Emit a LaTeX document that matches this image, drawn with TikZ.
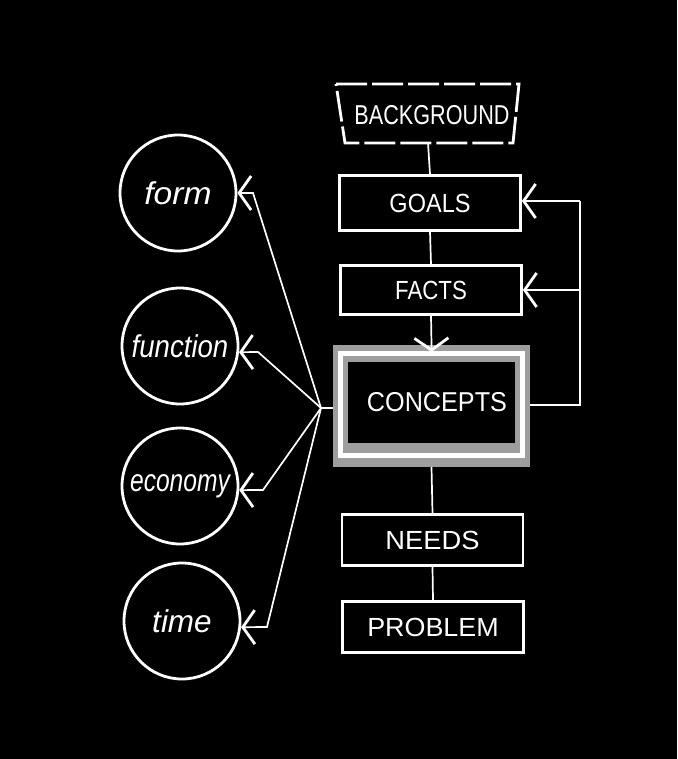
\documentclass[tikz,border=0pt]{standalone}
\usepackage{fontspec}
\usepackage{graphicx}
\setmainfont{Liberation Sans}
\usetikzlibrary{arrows.meta}
\begin{document}
\begin{tikzpicture}[x=1pt,y=-1pt,
  box/.style={draw=white, line width=2.8pt, minimum width=181pt, minimum height=52pt,
    inner sep=0pt, text=white, font=\fontsize{21}{21}\selectfont},
  ring/.style={circle, draw=white, line width=2.8pt, minimum size=116pt, inner sep=0pt,
    text=white, font=\itshape\fontsize{30}{30}\selectfont},
  link/.style={draw=white, line width=1.7pt},
  chev/.style={link, -{Straight Barb[length=12pt,width=34pt,line width=2.8pt 0 1]}},
  capsfont/.style={text=white, font=\fontsize{21}{21}\selectfont}
]
\useasboundingbox (0,0) rectangle (677,759);
\fill[black] (0,0) rectangle (677,759);

% background trapezoid (dashed)
\draw[white, line width=2.8pt, dash pattern=on 31pt off 5pt]
  (336,84) -- (519,84) -- (513,143) -- (345,143) -- cycle;
\node[capsfont] (bg) at (432,115) {\scalebox{1.03}[1.3]{BACKGROUND}};
\coordinate (bgb) at (428,143);

% boxes
\node[box, minimum height=55pt] (goals) at (430,203) {\scalebox{1.12}[1.25]{GOALS}};
\node[box, minimum height=49pt] (facts) at (431,290) {\scalebox{1.06}[1.25]{FACTS}};

% concepts frame
\node[draw=none, fill=white!62!black, minimum width=197pt, minimum height=122pt,
  inner sep=0pt] (concepts) at (431.5,406) {};
\fill[black] (348,362) rectangle (515,443);
\draw[white, line width=5pt] (340.5,353.5) rectangle (522.5,455);
\node[capsfont] (conceptstext) at (437,402) {\scalebox{1.2}[1.3]{CONCEPTS}};

\node[box, minimum height=51pt] (needs) at (432.5,540) {\scalebox{1.3}[1.25]{NEEDS}};
\node[box, minimum height=51pt] (problem) at (433,627) {\scalebox{1.28}[1.25]{PROBLEM}};

% circles
\node[ring] (form) at (178,193) {\scalebox{1.12}[1.05]{form}};
\node[ring] (function) at (180,346) {\scalebox{0.92}[1.05]{function}};
\node[ring] (economy) at (180,486) {\scalebox{0.82}[1.05]{economy}};
\node[ring] (time) at (182,621) {\scalebox{1.05}[1.05]{time}};

% vertical spine
\draw[link] (bgb) -- (goals.north);
\draw[link] (goals.south) -- (facts.north);
\draw[chev, shorten >=-7pt] (facts.south) -- (concepts.north);
\draw[link] (concepts.south) -- (needs.north);
\draw[link] (needs.south) -- (problem.north);

% feedback loop
\coordinate (fbr) at (580,405);
\coordinate (fbt) at (580,201);
\draw[link] (concepts.east |- fbr) -- (fbr) -- (fbt);
\draw[chev] (fbt) -- (goals.east |- fbt);
\draw[chev] (fbr |- facts.east) -- (facts.east);

% hub to circles
\coordinate (hub) at (321,408);
\draw[link] (concepts.west |- hub) -- (hub);
\coordinate (kform) at (253,193);
\coordinate (kfunc) at (258,352);
\coordinate (kecon) at (263,490);
\coordinate (ktime) at (267,627);
\draw[chev] (hub) -- (kform) -- (form.east);
\draw[chev] (hub) -- (kfunc) -- (function.-6);
\draw[chev] (hub) -- (kecon) -- (economy.-4);
\draw[chev] (hub) -- (ktime) -- (time.-6);
\end{tikzpicture}
\end{document}
